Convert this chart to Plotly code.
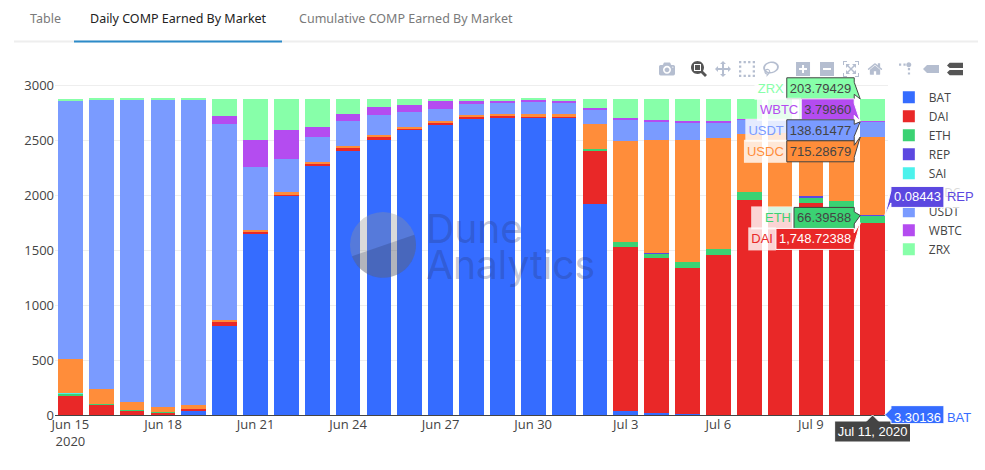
import plotly.graph_objects as go
import math

dates = ["2020-06-15","2020-06-16","2020-06-17","2020-06-18","2020-06-19","2020-06-20","2020-06-21","2020-06-22","2020-06-23",
         "2020-06-24","2020-06-25","2020-06-26","2020-06-27","2020-06-28","2020-06-29","2020-06-30","2020-07-01","2020-07-02",
         "2020-07-03","2020-07-04","2020-07-05","2020-07-06","2020-07-07","2020-07-08","2020-07-09","2020-07-10","2020-07-11"]
N = None
BAT  = [N,N,N,N,35,813,1656,2004,2271,2414,2514,2602,2641,2695,2707,2711,2711,1925,41,15,8,3,N,N,N,N,3.30136]
DAI  = [180,95,44,26,21,31,12,10,21,15,18,9,21,22,24,2,3,482,1491,1419,1336,1456,1959,1840,1930,1895,1748.72388]
ETH  = [12,3,3,2,N,N,N,N,N,N,N,N,N,N,N,N,N,13,45,37,51,57,70,58,55,55,66.39588]
REP  = [5,N,N,N,N,N,N,N,N,N,N,N,N,N,N,N,N,N,N,9,N,N,N,N,7,N,0.08443]
SAI  = [3,N,N,N,N,N,N,N,N,N,N,N,N,N,N,N,N,N,N,N,N,N,N,N,N,N,N]
USDC = [313,137,73,43,33,24,18,18,15,21,21,18,18,15,10,28,33,236,916,1025,1110,1007,530,672,578,620,715.28679]
USDT = [2355,2639,2760,2809,2791,1788,570,301,225,227,182,130,113,109,103,118,103,128,200,169,160,145,134,125,125,125,138.61477]
WBTC = [N,5,N,N,N,70,254,262,91,70,70,64,66,18,24,12,18,14,18,15,12,12,3,4,4,4,3.79860]
ZRX  = [15,3,2,2,2,157,373,288,260,136,78,60,24,24,15,12,15,85,172,194,206,203,187,184,184,184,203.79429]

names = ["BAT","DAI","ETH","REP","SAI","USDC","USDT","WBTC","ZRX"]
series = [BAT,DAI,ETH,REP,SAI,USDC,USDT,WBTC,ZRX]
colors = ["#356CFF","#E92828","#3BD273","#5C48E0","#4CF2EC","#FF8D3A","#7A9BFF","#B44CF0","#87FFA9"]

L, R, T, B = 55, 888, 81.6, 415.5
W, H = 985, 470
def px(x): return (x - L) / (R - L)
def py(y): return (B - y) / (B - T)

fig = go.Figure()
for n, s, c in zip(names, series, colors):
    extra = dict()
    if n == "ETH":
        # the slightly longer name sends this hover label to the left of the bar, as in the reference
        extra = dict(hovertemplate="%{y:,.5f}<extra>\u00a0\u00a0\u00a0ETH</extra>")
    if n == "WBTC":
        extra = dict(hoverlabel=dict(font=dict(color="#444444")))
    fig.add_trace(go.Bar(x=dates, y=s, name=n, marker=dict(color=c, line=dict(width=0)), **extra))

def rect(x0, y0, x1, y1, color):
    return dict(type="rect", xref="paper", yref="paper", x0=px(x0), x1=px(x1), y0=py(y0), y1=py(y1),
                fillcolor=color, line=dict(width=0), layer="above")

cx, cy, r = 383, 245, 33
shapes = [
    rect(14, 40, 978, 42, "#eeeeee"),
    rect(74, 40, 282, 42, "#2d8bc9"),
    dict(type="circle", xref="paper", yref="paper", x0=px(cx-r), x1=px(cx+r), y0=py(cy-r), y1=py(cy+r),
         fillcolor="rgba(150,150,150,0.35)", line=dict(width=0), layer="above"),
]
a0, a1 = math.radians(-18), math.radians(160)
pts = [(cx + r*math.cos(a0 + (a1-a0)*i/30), cy + r*math.sin(a0 + (a1-a0)*i/30)) for i in range(31)]
path = "M " + " L ".join(f"{px(x):.5f},{py(y):.5f}" for x, y in pts) + " Z"
shapes.append(dict(type="path", xref="paper", yref="paper", path=path,
                   fillcolor="rgba(20,30,70,0.2)", line=dict(width=0), layer="above"))

def label(text, x, y, size, color, font, anchor="left"):
    return dict(text=text, xref="paper", yref="paper", x=px(x), y=py(y), xanchor=anchor, yanchor="middle",
                showarrow=False, font=dict(size=size, color=color, family=font), borderpad=0)

annotations = [
    label("Table", 29, 18, 12.5, "#7a7a7a", "Noto Sans"),
    label("Daily COMP Earned By Market", 89, 18, 12.5, "#222222", "Noto Sans"),
    label("Cumulative COMP Earned By Market", 298, 18, 12.5, "#7a7a7a", "Noto Sans"),
    label("Dune", 425, 228, 39, "rgba(40,50,100,0.27)", "Inter"),
    label("Analytics", 425, 265, 39, "rgba(40,50,100,0.27)", "Inter"),
]

fig.update_layout(
    width=W, height=H, template="none", autosize=False,
    margin=dict(l=L, r=W-R, t=T, b=H-B, pad=0),
    barmode="stack", bargap=0.2,
    paper_bgcolor="white", plot_bgcolor="white",
    font=dict(family="Open Sans", size=12, color="#444444"),
    hovermode="x",
    dragmode="zoom",
    modebar=dict(color="rgba(90,110,150,0.45)", activecolor="#555555", bgcolor="rgba(0,0,0,0)"),
    xaxis=dict(type="date", range=["2020-06-14 12:00","2020-07-11 12:00"], tick0="2020-06-15", dtick=3*86400000,
               showgrid=False, showline=False, ticks="", hoverformat="%b %d, %Y", zeroline=False, tickfont=dict(size=13)),
    yaxis=dict(range=[0,3035], tick0=0, dtick=500, tickformat="d", gridcolor="#eeeeee", showline=False,
               ticks="", zeroline=True, zerolinecolor="#444444", zerolinewidth=1, hoverformat=",.5f", tickfont=dict(size=13)),
    legend=dict(x=1.001, y=0.998, xanchor="left", yanchor="top", traceorder="normal", bgcolor="rgba(0,0,0,0)",
                font=dict(size=12, color="#444444")),
    shapes=shapes, annotations=annotations,
)

post = """
document.body.style.margin='0';
document.documentElement.style.overflow='hidden';
var gd=document.getElementById('{plot_id}');
var mb=gd.querySelector('.modebar-container');
if(mb){mb.style.top='56px';}
var m=gd.querySelector('.modebar');
if(m){m.style.right='18px';}
var d=gd.querySelector('.nsewdrag');var b=d.getBoundingClientRect();
d.dispatchEvent(new MouseEvent('mousemove',{clientX:b.left+b.width*(817.7/833),clientY:b.top+b.height*0.6,bubbles:true}));
// the lowest label sits level with its point, as in the reference
gd.querySelectorAll('.hoverlayer .hovertext').forEach(function(g){
  if(g.textContent.indexOf('3.30136')<0) return;
  var p=g.querySelector('path'), bb=p.getBBox(), h=18, off=bb.height-h/2;
  if(bb.y>=0 || off<=0) return;
  var t=g.getAttribute('transform').match(/translate\\(([-\\d.]+),\\s*([-\\d.]+)\\)/);
  g.setAttribute('transform','translate('+t[1]+','+(parseFloat(t[2])+off)+')');
  var c=-off, w=bb.x+bb.width;
  p.setAttribute('d','M0,'+c+'L6,'+(c-6)+'V'+(c-h/2)+'H'+w+'V'+(c+h/2)+'H6V'+(c+6)+'Z');
});
"""
config = dict(displayModeBar=True, displaylogo=False, modeBarButtons=[
    ["toImage"],["zoom2d","pan2d","select2d","lasso2d"],
    ["zoomIn2d","zoomOut2d","autoScale2d","resetScale2d"],
    ["toggleSpikelines","hoverClosestCartesian","hoverCompareCartesian"]])
fig.write_html("out.html", config=config, post_script=post)
